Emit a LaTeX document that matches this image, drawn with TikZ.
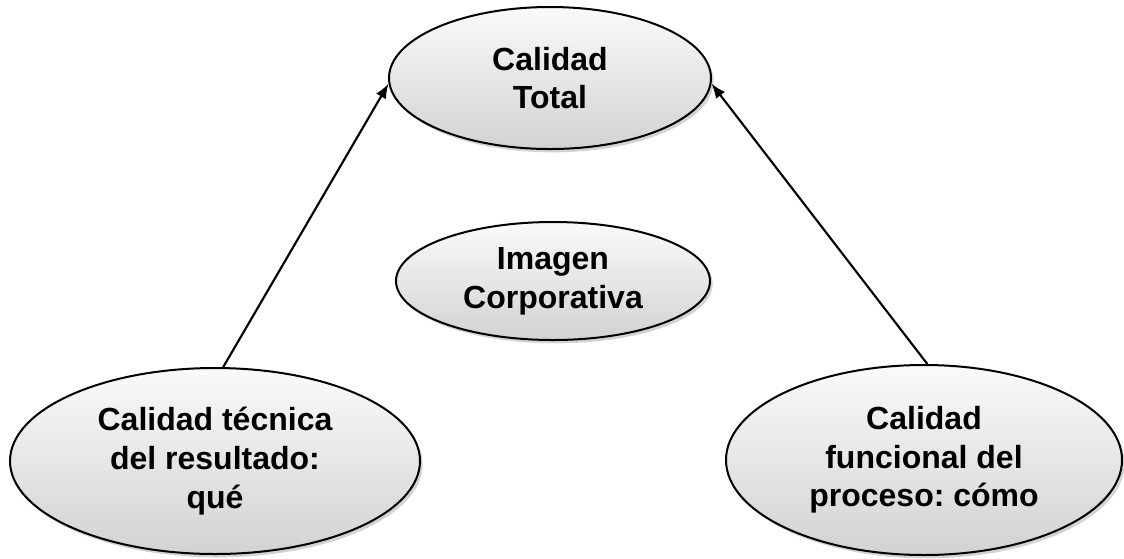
\documentclass[tikz,border=0pt]{standalone}
\usepackage{fontspec}
\setmainfont{Liberation Sans}
\frenchspacing
\usetikzlibrary{shapes.geometric,shadows,arrows.meta}
\tikzset{
  oval/.style={ellipse, draw, line width=1.5pt, inner sep=0pt, align=center,
    top color=gray!4, bottom color=gray!35,
    drop shadow={shadow xshift=2pt, shadow yshift=-2.5pt, opacity=0.35},
    font=\fontsize{24pt}{29pt}\selectfont\bfseries},
  link/.style={-{Latex[length=11pt,width=8.5pt]}, line width=1.6pt}
}
\begin{document}
\begin{tikzpicture}[x=0.75pt,y=-0.75pt]
    \useasboundingbox (0,0) rectangle (1124,558);
    % Top: total quality
    \node[oval, minimum width=241.5pt, minimum height=106.5pt] (total) at (550,78) {Calidad\\Total};
    % Middle: corporate image
    \node[oval, minimum width=235.5pt, minimum height=88.5pt] (imagen) at (553,281) {Imagen\\Corporativa};
    % Bottom: the two dimensions
    \node[oval, minimum width=307.5pt, minimum height=139.5pt] (tecnica) at (215,461) {Calidad t\'ecnica\\del resultado:\\qu\'e};
    \node[oval, minimum width=297pt, minimum height=142.5pt] (funcional) at (924,460) {Calidad\\funcional del\\proceso: c\'omo};
    % Arrows
    \draw[link] (tecnica.85) -- (total.182);
    \draw[link] (funcional.88) -- (total.358);
\end{tikzpicture}
\end{document}
